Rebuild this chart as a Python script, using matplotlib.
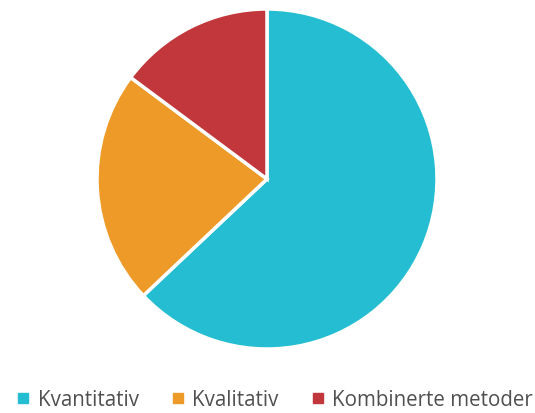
import matplotlib
matplotlib.use("Agg")
import matplotlib.pyplot as plt
from matplotlib.lines import Line2D

labels = ["Kvantitativ", "Kvalitativ", "Kombinerte metoder"]
values = [17, 6, 4]
colors = ["#25BDD1", "#EE9A28", "#C1373B"]

fig = plt.figure(figsize=(5.35, 4.14), dpi=100)
ax = fig.add_axes([(267 - 170) / 535, (414 - 350) / 414, 340 / 535, 340 / 414])
ax.pie(values, colors=colors, startangle=90, counterclock=False,
       wedgeprops=dict(edgecolor="white", linewidth=2.5))
ax.set_xlim(-1, 1)
ax.set_ylim(-1, 1)
ax.set_aspect("equal")

handles = [Line2D([0], [0], marker="s", linestyle="none", markersize=6.5,
                  markerfacecolor=c, markeredgecolor=c) for c in colors]
fig.legend(handles, labels, loc="center", bbox_to_anchor=(274 / 535, (414 - 401) / 414),
           ncol=3, frameon=False, prop={"family": ["Open Sans", "DejaVu Sans"], "size": 14.8},
           handletextpad=0.3, columnspacing=1.5, handlelength=0.8, labelcolor="#505050",
           borderpad=0, borderaxespad=0)

fig.savefig("out.png", dpi=100)
